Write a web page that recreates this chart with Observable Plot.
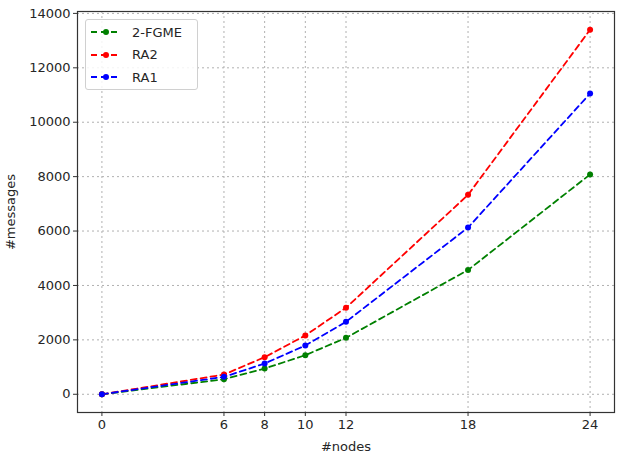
<!DOCTYPE html>
<html>
<head>
<meta charset="utf-8">
<script src="https://cdn.jsdelivr.net/npm/d3@7"></script>
<script src="https://cdn.jsdelivr.net/npm/@observablehq/plot@0.6"></script>
<style>
  html, body { margin: 0; padding: 0; background: #fff; }
  #wrap { position: relative; width: 621px; height: 456px; font-family: "DejaVu Sans", sans-serif; }
  #legend { position: absolute; left: 85px; top: 19px; width: 111px; height: 69px; border: 1px solid #d0d0d0; border-radius: 3px; background: rgba(255,255,255,0.85); font-size: 13px; color: #262626; }
  .item { position: absolute; left: 4px; height: 16px; display: flex; align-items: center; }
  .item span { margin-left: 10px; }
</style>
</head>
<body>
<div id="wrap"></div>
<script>
const nodes = [0, 6, 8, 10, 12, 18, 24];
const series = ["2-FGME", "RA2", "RA1"];
const colors = ["#008000", "#ff0000", "#0000ff"];
const fgme = [0, 553, 947, 1437, 2075, 4569, 8080];
const ra2 = [0, 725, 1363, 2162, 3180, 7330, 13400];
const ra1 = [0, 640, 1130, 1794, 2664, 6128, 11054];
const yTicks = [0, 2000, 4000, 6000, 8000, 10000, 12000, 14000];

const valuesBySeries = [fgme, ra2, ra1];
const data = [];
series.forEach((s, i) => nodes.forEach((n, j) => data.push({series: s, nodes: n, messages: valuesBySeries[i][j]})));

const chart = Plot.plot({
  width: 621,
  height: 456,
  marginLeft: 77,
  marginTop: 11,
  marginRight: 7,
  marginBottom: 44,
  style: {fontFamily: "DejaVu Sans, sans-serif", fontSize: "13px", color: "#262626", background: "#fff"},
  x: {domain: [-1.2, 25.2], ticks: nodes, label: "#nodes"},
  y: {domain: [-670, 14070], ticks: yTicks, label: "#messages"},
  color: {domain: series, range: colors},
  marks: [
    Plot.gridX(nodes, {stroke: "#b0b0b0", strokeOpacity: 1, strokeDasharray: "2,3", strokeWidth: 1}),
    Plot.gridY(yTicks, {stroke: "#b0b0b0", strokeOpacity: 1, strokeDasharray: "2,3", strokeWidth: 1}),
    Plot.axisX({ticks: nodes, tickSize: 4, tickPadding: 3, label: "#nodes", labelAnchor: "center", labelArrow: "none", labelOffset: 38, fontSize: 13, stroke: "#333"}),
    Plot.axisY({ticks: yTicks, tickSize: 4, tickPadding: 3, label: "#messages", labelAnchor: "center", labelArrow: "none", labelOffset: 72, fontSize: 13, stroke: "#333", tickFormat: d => String(d)}),
    Plot.line(data, {x: "nodes", y: "messages", z: "series", stroke: "series", strokeWidth: 1.8, strokeDasharray: "6,4"}),
    Plot.dot(data, {x: "nodes", y: "messages", fill: "series", r: 3}),
    Plot.frame({stroke: "#333", strokeWidth: 1.2})
  ]
});
document.getElementById("wrap").appendChild(chart);

// legend
const legend = document.createElement("div");
legend.id = "legend";
series.forEach((s, i) => {
  const item = document.createElement("div");
  item.className = "item";
  item.style.top = (4 + i * 22.5) + "px";
  const c = colors[i];
  item.innerHTML = `<svg width="32" height="10"><line x1="1" y1="5" x2="31" y2="5" stroke="${c}" stroke-width="1.8" stroke-dasharray="6,4"/><circle cx="16" cy="5" r="3" fill="${c}"/></svg><span>${s}</span>`;
  legend.appendChild(item);
});
document.getElementById("wrap").appendChild(legend);
</script>
</body>
</html>
